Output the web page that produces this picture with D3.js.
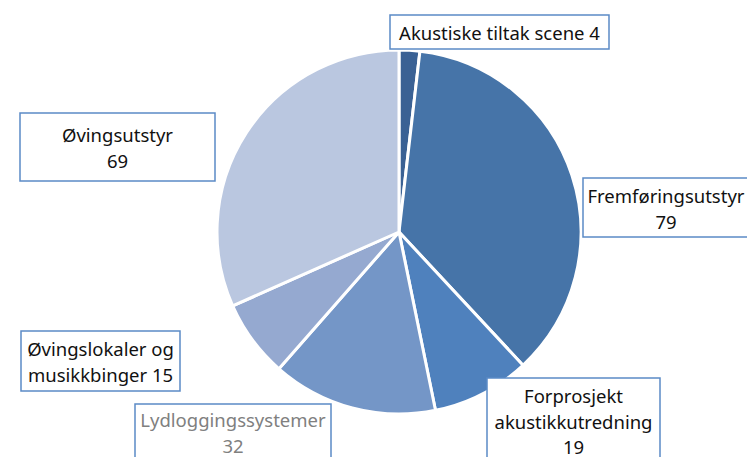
<!DOCTYPE html>
<html>
<head>
<meta charset="utf-8">
<script src="https://cdn.jsdelivr.net/npm/d3@7"></script>
<style>
  body { margin: 0; background: #fff; }
  svg { display: block; font-family: "Noto Sans", "Liberation Sans", sans-serif; }
</style>
</head>
<body>
<div id="chart"></div>
<script>
const categories = ['Akustiske tiltak scene', 'Fremføringsutstyr', 'Forprosjekt akustikkutredning',
  'Lydloggingssystemer', 'Øvingslokaler og musikkbinger', 'Øvingsutstyr']
const values = [4, 79, 19, 32, 15, 69]
const colors = ['#3a6194', '#4674a8', '#4f81bd', '#7496c7', '#95a9d0', '#bac7e0']

// label text lines (as in the original chart)
const labelLines = [
  ['Akustiske tiltak scene 4'],
  ['Fremføringsutstyr', '79'],
  ['Forprosjekt', 'akustikkutredning', '19'],
  ['Lydloggingssystemer', '32'],
  ['Øvingslokaler og', 'musikkbinger 15'],
  ['Øvingsutstyr', '69']
]
// hand placed label boxes [x, y, w, h, first baseline, text centre]
const labelBoxes = [
  [390, 15, 219, 34, 40, 499.5],
  [583, 178, 175, 59, 203, 666],
  [487, 378, 173, 90, 403, 573.5],
  [135, 404, 196, 70, 427, 233],
  [21, 331, 159, 60, 356, 100.5],
  [20, 113, 195, 68, 142, 117.5]
]

const width = 747, height = 457
const cx = 399, cy = 232, radius = 182

const svg = d3.select('#chart')
  .append('svg')
  .attr('width', width)
  .attr('height', height)

const pie = d3.pie().sort(null).value(d => d)
const arc = d3.arc().innerRadius(0).outerRadius(radius)

const g = svg.append('g')
  .attr('transform', `translate(${cx},${cy})`)

g.selectAll('path')
  .data(pie(values))
  .enter()
  .append('path')
  .attr('d', arc)
  .attr('fill', (d, i) => colors[i])
  .attr('stroke', '#fff')
  .attr('stroke-width', 3)
  .attr('stroke-linejoin', 'round')

const labels = svg.selectAll('g.label')
  .data(labelLines)
  .enter()
  .append('g')
  .attr('class', 'label')

labels.append('rect')
  .attr('x', (d, i) => labelBoxes[i][0])
  .attr('y', (d, i) => labelBoxes[i][1])
  .attr('width', (d, i) => labelBoxes[i][2])
  .attr('height', (d, i) => labelBoxes[i][3])
  .attr('fill', '#fff')
  .attr('stroke', '#5b8ac6')
  .attr('stroke-width', 1.5)

labels.each(function (lines, i) {
  const b = labelBoxes[i]
  const lineH = 25.5
  d3.select(this).selectAll('text')
    .data(lines)
    .enter()
    .append('text')
    .attr('x', b[5])
    .attr('y', (d, j) => b[4] + j * lineH)
    .attr('text-anchor', 'middle')
    .attr('font-size', 18.5)
    .attr('fill', i === 3 ? '#808080' : '#111')
    .text(d => d)
})
</script>
</body>
</html>
